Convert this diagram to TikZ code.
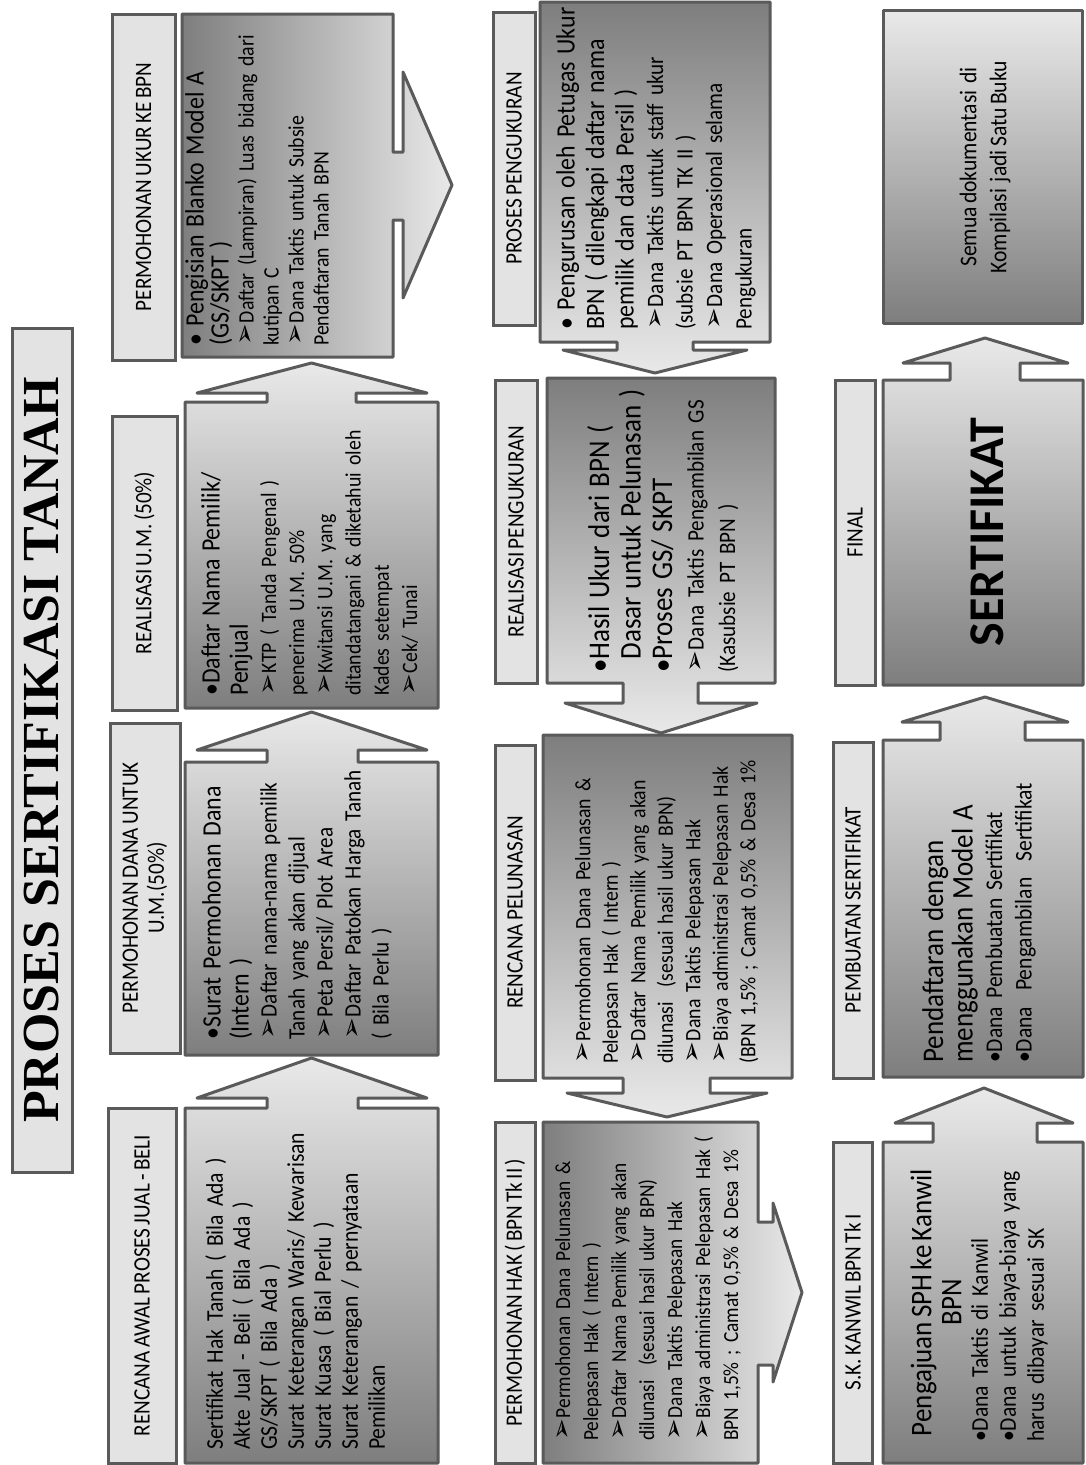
\documentclass[tikz,border=0pt]{standalone}
\usepackage{fontspec}
\setmainfont{Carlito}[FakeStretch=0.9, WordSpace=0.7]
\newfontfamily\plainfont{Carlito}
\newfontfamily\headlinefont{Liberation Serif}
\newfontfamily\arrowfont{DejaVu Sans}

\definecolor{edge}{HTML}{5A5A5A}
\definecolor{labfill}{HTML}{E3E3E3}
\definecolor{lite}{HTML}{E9E9E9}
\definecolor{dark}{HTML}{7E7E7E}

\newcommand{\pointer}{{\arrowfont\fontsize{26}{26}\selectfont ➢}\kern1pt}
\newcommand{\mainsz}{\fontsize{26.5}{28}\selectfont}
\newcommand{\headsz}{\fontsize{30}{30}\selectfont}

\begin{document}
\begin{tikzpicture}[x=1pt, y=-1pt,
  lab/.style={draw=edge, fill=labfill, line width=3pt, rotate=90, inner sep=0pt, align=center, font=\fontsize{23.5}{26}\selectfont},
  cbox/.style={draw=edge, line width=3pt, line join=round},
  upbox/.style={cbox, top color=lite, bottom color=dark},
  downbox/.style={cbox, top color=dark, bottom color=lite},
  rightbox/.style={cbox, left color=dark, right color=lite},
  txt/.style={rotate=90, anchor=north west, inner sep=0pt, align=left, text width=#1}]

  \fill[white] (0,0) rectangle (1085,1465);
  \useasboundingbox (0,0) rectangle (1085,1465);

  % title
  \node[lab, minimum width=844pt, minimum height=60pt, font=\headlinefont\bfseries\fontsize{52}{56}\selectfont] (title) at (42,750) {PROSES SERTIFIKASI TANAH};

  % left column, going up
  \node[lab, minimum width=355pt, minimum height=68pt] (awal) at (142,1285.5) {RENCANA AWAL PROSES JUAL - BELI};
  \draw[upbox] (185,1463) -- (185,1108) -- (267,1108) -- (267,1098) -- (197,1098) -- (311.5,1058) -- (427,1098) -- (358,1098) -- (358,1108) -- (438,1108) -- (438,1463) -- cycle;
  \node[txt=600pt, font=\fontsize{24}{27}\selectfont] (awaltext) at (205,1450) {Sertifikat Hak Tanah ( Bila Ada )\\
    Akte Jual - Beli ( Bila Ada )\\
    GS/SKPT ( Bila Ada )\\
    Surat Keterangan Waris/ Kewarisan\\
    Surat Kuasa ( Bial Perlu )\\
    Surat Keterangan / pernyataan\\
    Pemilikan};

  \node[lab, minimum width=330pt, minimum height=70pt] (danaum) at (145,888) {PERMOHONAN DANA UNTUK\\U.M.(50\%)};
  \draw[upbox] (185,1055) -- (185,762) -- (267,762) -- (267,750) -- (197,750) -- (311.5,712) -- (427,750) -- (358,750) -- (358,762) -- (438,762) -- (438,1055) -- cycle;
  \node[txt=600pt, font=\fontsize{23.5}{28}\selectfont] (danaumtext) at (202,1040) {{\mainsz •Surat Permohonan Dana}\\
    {\mainsz (Intern )}\\
    \pointer Daftar nama-nama pemilik\\
    Tanah yang akan dijual\\
    \pointer Peta Persil/ Plot Area\\
    \pointer Daftar Patokan Harga Tanah\\
    ( Bila Perlu )};

  \node[lab, minimum width=294pt, minimum height=65pt] (realum) at (144.5,563) {REALISASI U.M. (50\%)};
  \draw[upbox] (185,708) -- (185,402) -- (267,402) -- (267,393) -- (197,393) -- (311.5,363) -- (427,393) -- (356,393) -- (356,402) -- (438,402) -- (438,708) -- cycle;
  \node[txt=600pt, font=\fontsize{22}{28.2}\selectfont] (realumtext) at (201,696) {{\mainsz •Daftar Nama Pemilik/}\\
    {\mainsz Penjual}\\
    \pointer KTP ( Tanda Pengenal )\\
    penerima U.M. 50\%\\
    \pointer Kwitansi U.M. yang\\
    ditandatangani \& diketahui oleh\\
    Kades setempat\\
    \pointer Cek/ Tunai};

  \node[lab, minimum width=346pt, minimum height=63pt] (ukur) at (143.5,187) {PERMOHONAN UKUR KE BPN};
  \draw[rightbox] (182,14) -- (393,14) -- (393,152) -- (403,152) -- (403,72) -- (452,185) -- (403,298) -- (403,220) -- (393,220) -- (393,357) -- (182,357) -- cycle;
  \node[txt=600pt, font=\fontsize{22}{25}\selectfont] (ukurtext) at (185,346) {{\mainsz • Pengisian Blanko Model A}\\
    {\mainsz (GS/SKPT )}\\
    \pointer Daftar (Lampiran) Luas bidang dari\\
    kutipan C\\
    \pointer Dana Taktis untuk Subsie\\
    Pendaftaran Tanah BPN};

  % middle column, going down
  \node[lab, minimum width=313pt, minimum height=42pt] (proses) at (514,168.5) {PROSES PENGUKURAN};
  \draw[downbox] (540,2) -- (770,2) -- (770,342) -- (693,342) -- (693,350) -- (747,350) -- (655,373) -- (563,350) -- (617,350) -- (617,342) -- (540,342) -- cycle;
  \node[txt=600pt, font=\fontsize{23.5}{29.5}\selectfont] (prosestext) at (556,330) {{\mainsz • Pengurusan oleh Petugas Ukur}\\
    {\mainsz BPN ( dilengkapi daftar nama}\\
    {\mainsz pemilik dan data Persil )}\\
    \pointer Dana Taktis untuk staff ukur\\
    (subsie PT BPN TK II )\\
    \pointer Dana Operasional selama\\
    Pengukuran};

  \node[lab, minimum width=303pt, minimum height=42pt] (realukur) at (516,531.5) {REALISASI PENGUKURAN};
  \draw[downbox] (547,378) -- (775,378) -- (775,683) -- (698,683) -- (698,703) -- (757,703) -- (661,733) -- (565,703) -- (623,703) -- (623,683) -- (547,683) -- cycle;
  \node[txt=600pt, font=\fontsize{23.5}{31.5}\selectfont] (realukurtext) at (587,673) {{\headsz •Hasil Ukur dari BPN (}\\
    {\headsz \phantom{•}Dasar untuk Pelunasan )}\\
    {\headsz •Proses GS/ SKPT}\\
    \pointer Dana Taktis Pengambilan GS\\
    (Kasubsie PT BPN )};

  \node[lab, minimum width=335pt, minimum height=40pt] (pelunasan) at (515,912.5) {RENCANA PELUNASAN};
  \draw[downbox] (543,735) -- (792,735) -- (792,1078) -- (710,1078) -- (710,1093) -- (767,1093) -- (667,1117) -- (567,1093) -- (623,1093) -- (623,1078) -- (543,1078) -- cycle;
  \node[txt=600pt, font=\fontsize{22}{27.5}\selectfont] (pelunasantext) at (575,1064) {\pointer Permohonan Dana Pelunasan \&\\
    Pelepasan Hak ( Intern )\\
    \pointer Daftar Nama Pemilik yang akan\\
    dilunasi~ (sesuai hasil ukur BPN)\\
    \pointer Dana Taktis Pelepasan Hak\\
    \pointer Biaya administrasi Pelepasan Hak\\
    (BPN 1,5\% ; Camat 0,5\% \& Desa 1\%};

  \node[lab, minimum width=341pt, minimum height=40pt] (hak) at (515,1292.5) {PERMOHONAN HAK ( BPN Tk II )};
  \draw[rightbox] (543,1122) -- (758,1122) -- (758,1222) -- (773,1222) -- (773,1203) -- (802,1292.5) -- (773,1382) -- (773,1365) -- (758,1365) -- (758,1463) -- (543,1463) -- cycle;
  \node[txt=600pt, font=\fontsize{21.5}{28}\selectfont] (haktext) at (555,1441) {\pointer Permohonan Dana Pelunasan \&\\
    Pelepasan Hak ( Intern )\\
    \pointer Daftar Nama Pemilik yang akan\\
    dilunasi~ (sesuai hasil ukur BPN)\\
    \pointer Dana Taktis Pelepasan Hak\\
    \pointer Biaya administrasi Pelepasan Hak (\\
    BPN 1,5\% ; Camat 0,5\% \& Desa 1\%};

  % right column, going up
  \node[lab, minimum width=321pt, minimum height=39pt] (kanwil) at (852.5,1302.5) {S.K. KANWIL BPN Tk I};
  \draw[upbox] (883,1463) -- (883,1142) -- (933,1142) -- (933,1123) -- (895,1123) -- (984,1088) -- (1073,1123) -- (1037,1123) -- (1037,1142) -- (1083,1142) -- (1083,1463) -- cycle;
  \node[rotate=90, inner sep=0pt, align=center, font=\headsz] (kanwilhead) at (936,1302.5) {Pengajuan SPH ke Kanwil\\BPN};
  \node[txt=600pt, font=\fontsize{24}{28}\selectfont] (kanwiltext) at (971,1442) {•Dana Taktis di Kanwil\\
    •Dana untuk biaya-biaya yang\\
    harus dibayar sesuai SK};

  \node[lab, minimum width=336pt, minimum height=40pt] (pembuatan) at (853,910) {PEMBUATAN SERTIFIKAT};
  \draw[upbox] (883,1077) -- (883,740) -- (940,740) -- (940,722) -- (902,722) -- (985,697) -- (1068,722) -- (1025,722) -- (1025,740) -- (1083,740) -- (1083,1077) -- cycle;
  \node[txt=600pt, font=\fontsize{24}{29.5}\selectfont] (pembuatantext) at (922,1063) {{\headsz Pendaftaran dengan}\\
    {\headsz menggunakan Model A}\\
    •Dana Pembuatan Sertifikat\\
    •Dana~ Pengambilan~ Sertifikat};

  \node[lab, minimum width=305pt, minimum height=40pt] (final) at (855,532.5) {FINAL};
  \draw[upbox] (883,685) -- (883,380) -- (950,380) -- (950,363) -- (903,363) -- (985,338) -- (1068,363) -- (1020,363) -- (1020,380) -- (1083,380) -- (1083,685) -- cycle;
  \node[rotate=90, inner sep=0pt, font=\plainfont\bfseries\fontsize{50}{54}\selectfont] (sertifikat) at (987,532) {SERTIFIKAT};

  \draw[upbox] (883,10) rectangle (1082,323);
  \node[rotate=90, inner sep=0pt, align=center, font=\fontsize{24}{30}\selectfont] (buku) at (985,167) {Semua dokumentasi~ di\\Kompilasi~ jadi Satu Buku};
\end{tikzpicture}
\end{document}
